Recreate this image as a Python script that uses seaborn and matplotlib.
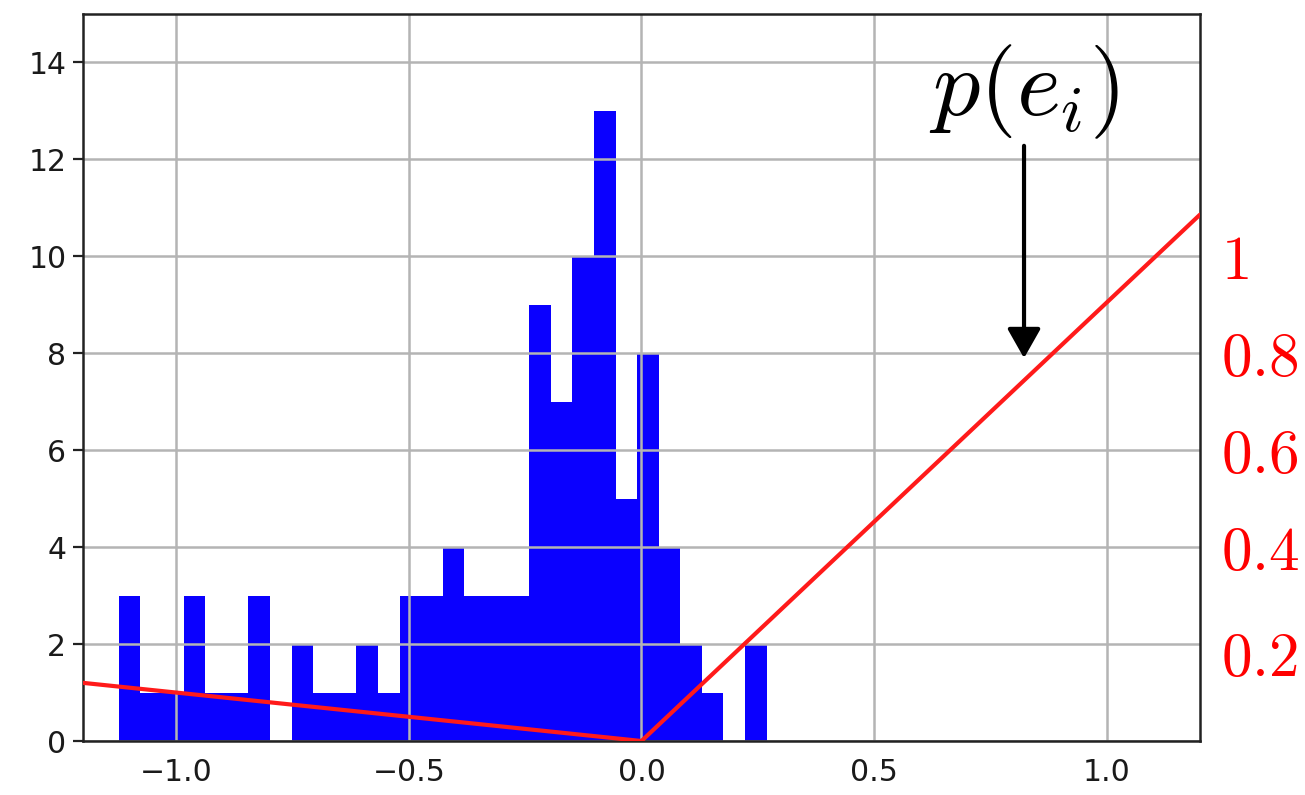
import numpy as np
import pandas as pd
import matplotlib
matplotlib.use("Agg")
import matplotlib.pyplot as plt
import matplotlib.transforms as mtransforms
import seaborn as sns

# Histogram of residuals: equal-width bins over this range
hist_range = (-1.123, 0.269)
counts = [3, 1, 1, 3, 1, 1, 3, 0, 2, 1,
          1, 2, 1, 3, 3, 4, 3, 3, 3, 9,
          7, 10, 13, 5, 8, 4, 2, 1, 0, 2]

# Asymmetric weighting curve p(e), read on the right-hand scale
loss_x = [-1.2, 0.0, 1.2]
loss_p = [0.12, 0.0, 1.086]

x_ticks = [-1.0, -0.5, 0.0, 0.5, 1.0]
y_ticks = [0, 2, 4, 6, 8, 10, 12, 14]
p_ticks = [0.2, 0.4, 0.6, 0.8, 1.0]
p_labels = ["$0.2$", "$0.4$", "$0.6$", "$0.8$", "$1$"]

# Arrow pointing at the curve
arrow_tip = (0.822, 7.9)
arrow_tail = (0.822, 12.28)
label_pos = (0.822, 13.4)

sns.set_theme(style="white")
plt.rcParams["font.family"] = ["DejaVu Sans"]
plt.rcParams["mathtext.fontset"] = "cm"

fig = plt.figure(figsize=(13.05, 7.95), dpi=100)
ax = fig.add_axes([0.0636, 0.0679, 0.8559, 0.9145])

n_bins = len(counts)
width = (hist_range[1] - hist_range[0]) / n_bins
centers = hist_range[0] + width * (np.arange(n_bins) + 0.5)
df = pd.DataFrame({"e": centers, "n": counts})
sns.histplot(data=df, x="e", weights="n", bins=n_bins, binrange=hist_range,
             color="#0a00ff", alpha=1.0, linewidth=0, ax=ax)

ax.set_xlim(-1.2, 1.2)
ax.set_ylim(0, 15)
ax.set_xticks(x_ticks)
ax.set_yticks(y_ticks)
ax.set_xlabel("")
ax.set_ylabel("")
ax.set_axisbelow("line")
ax.grid(True, color="#b4b4b4", linewidth=1.8)
ax.tick_params(axis="both", labelsize=21.5, length=7, width=1.6,
               color="#222222", labelcolor="#1a1a1a", pad=5)
for s in ax.spines.values():
    s.set_visible(True)
    s.set_color("#222222")
    s.set_linewidth(1.8)

# Right-hand scale for the weighting curve
ax2 = ax.twinx()
ax2.set_ylim(0, 1.5)
sns.lineplot(x=loss_x, y=loss_p, color="#ff1a1a", linewidth=3.0, ax=ax2)
ax2.set_yticks(p_ticks)
ax2.set_yticklabels(p_labels)
ax2.tick_params(axis="y", length=0, pad=15, labelsize=44, labelcolor="red")
ax2.grid(False)
for s in ax2.spines.values():
    s.set_visible(False)
# the lowest label sits a little below its tick
low = ax2.get_yticklabels()[0]
low.set_transform(low.get_transform() +
                  mtransforms.ScaledTranslation(0, -0.09, fig.dpi_scale_trans))

ax.annotate("", xy=arrow_tip, xytext=arrow_tail,
            arrowprops=dict(arrowstyle="-|>,head_length=1.5,head_width=0.85",
                            color="black", lw=3, shrinkA=0, shrinkB=0),
            zorder=5)
ax2.text(label_pos[0], label_pos[1] / 10.0, "$p(e_i)$", fontsize=68,
         ha="center", va="center", color="black")

fig.savefig("out.png", dpi=100)
